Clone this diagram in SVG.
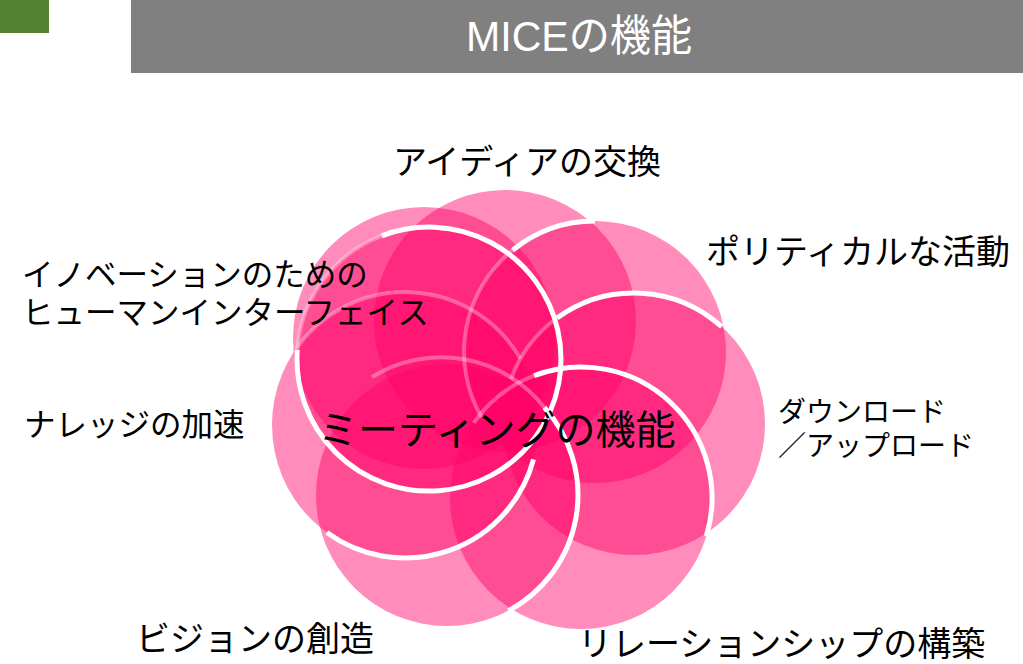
<svg xmlns="http://www.w3.org/2000/svg" width="1023" height="664" viewBox="0 0 1023 664">
<style>
.petal{fill:#FF0066;fill-opacity:0.45}
.arc{fill:none;stroke:#fff;stroke-width:5}
.faint{fill:none;stroke:#fff;stroke-width:4;stroke-opacity:0.3}
.lbl{font-family:"Liberation Sans","Noto Sans CJK JP",sans-serif;fill:#000}
</style>
<rect x="0" y="0" width="1023" height="664" fill="#fff"/>
<g id="header">
<rect x="0" y="0" width="49" height="33" fill="#548235"/>
<rect x="131" y="0" width="892" height="73" fill="#808080"/>
<text x="579" y="51" text-anchor="middle" font-family="'Liberation Sans','Noto Sans CJK JP',sans-serif" font-size="43" fill="#fff" textLength="226" lengthAdjust="spacingAndGlyphs">MICEの機能</text>
</g>
<g id="flower">
<circle class="petal" cx="505" cy="321" r="131"/>
<circle class="petal" cx="424" cy="338" r="131"/>
<circle class="petal" cx="595" cy="352" r="131"/>
<circle class="petal" cx="634" cy="424" r="131"/>
<circle class="petal" cx="581" cy="498" r="131"/>
<circle class="petal" cx="447" cy="495" r="131"/>
<circle class="petal" cx="405" cy="425" r="133"/>
<circle class="petal" cx="429" cy="359" r="132"/>
</g>
<g id="connectors">
<path class="faint" d="M481.6,417.5 A131,131 0 0 1 512.6,250.2"/>
<path class="faint" d="M510.9,379.2 A131,131 0 0 1 557,318"/>
<path class="faint" d="M473.7,422.8 A131,131 0 0 1 534.1,375.7"/>
<path class="faint" d="M371.9,377.1 A131,131 0 0 1 544.3,407.4"/>
<path class="faint" d="M296.1,348.7 A133,133 0 0 1 520.2,358.5"/>
<path class="faint" d="M297.3,349.8 A132,132 0 0 1 381.7,235.8"/>
<path class="arc" d="M381.7,235.8 A132,132 0 1 1 297.3,349.8"/>
<path class="arc" d="M512.6,250.2 A131,131 0 0 1 595,221"/>
<path class="arc" d="M557,318 A131,131 0 0 1 721.7,326.7"/>
<path class="arc" d="M534.1,375.7 A131,131 0 0 1 706.3,536.3"/>
<path class="arc" d="M544.3,407.4 A131,131 0 0 1 508.5,610.7"/>
<path class="arc" d="M533.5,459.4 A133,133 0 0 1 326.8,532.6"/>
</g>
<g id="center"><text class="lbl" x="318" y="444" font-size="40">ミーティングの機能</text></g>
<g id="l-top"><text class="lbl" x="393" y="174" font-size="34">アイディアの交換</text></g>
<g id="l-ur"><text class="lbl" x="706" y="264" font-size="34">ポリティカルな活動</text></g>
<g id="l-ul"><text class="lbl" x="22" y="286" font-size="31.5">イノベーションのための</text><text class="lbl" x="22" y="324" font-size="31.5">ヒューマンインターフェイス</text></g>
<g id="l-left"><text class="lbl" x="24" y="436" font-size="31.5">ナレッジの加速</text></g>
<g id="l-right"><text class="lbl" x="778" y="422" font-size="28">ダウンロード</text><text class="lbl" x="778" y="456" font-size="28">／アップロード</text></g>
<g id="l-bl"><text class="lbl" x="136" y="651" font-size="34">ビジョンの創造</text></g>
<g id="l-br"><text class="lbl" x="578" y="656" font-size="34">リレーションシップの構築</text></g>
</svg>
